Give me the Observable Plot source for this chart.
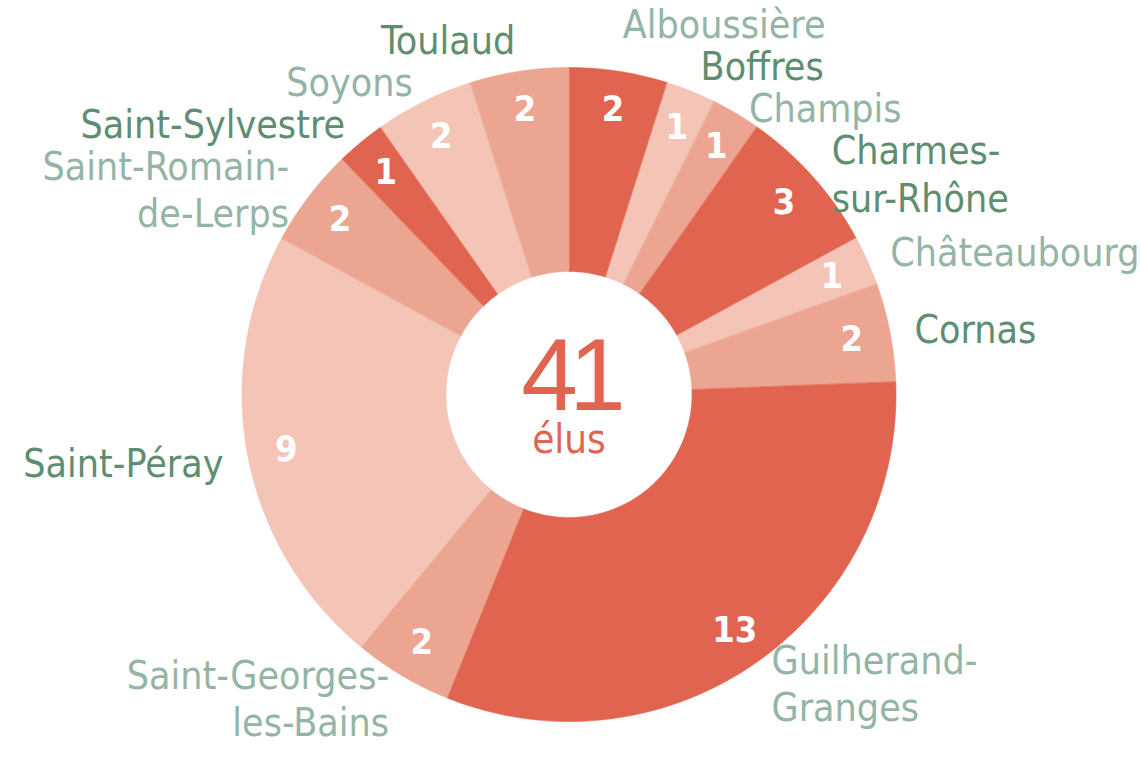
<!DOCTYPE html>
<html><head><meta charset="utf-8">
<script src="https://cdn.jsdelivr.net/npm/d3@7"></script>
<script src="https://cdn.jsdelivr.net/npm/@observablehq/plot@0.6"></script>
<style>
html,body{margin:0;padding:0;background:#fff;}
#chart svg{display:block;font-stretch:condensed;}
</style></head><body><div id="chart"></div>
<script>
// ---- data ----
const communes = ["Alboussière","Boffres","Champis","Charmes-sur-Rhône","Châteaubourg","Cornas","Guilherand-Granges","Saint-Georges-les-Bains","Saint-Péray","Saint-Romain-de-Lerps","Saint-Sylvestre","Soyons","Toulaud"];
const elus = [2,1,1,3,1,2,13,2,9,2,1,2,2];
const sliceTone = ["fort","clair","moyen","fort","clair","moyen","fort","moyen","clair","moyen","fort","clair","moyen"];
const labelTone = ["clair","fonce","clair","fonce","clair","fonce","clair","clair","fonce","clair","fonce","clair","fonce"];
const centerLabel = "élus";

// ---- layout & style ----
const W = 1140, H = 757, CX = 568.5, CY = 394;
const R_OUT = 327, R_IN = 123, R_NUM = 288, R_LAB = 352;
const FONT = "'DejaVu Sans Condensed', 'DejaVu Sans', sans-serif";
const LABEL_SIZE = 39, LINE_H = 1.22, GAP = 42;
const sliceColors = {fort: "#e0644f", moyen: "#eca591", clair: "#f4c5b6"};
const labelColors = {fonce: "#5e8d6f", clair: "#94b5a4"};

function breakName(name) {
  if (name.length <= 15) return name;
  const mid = name.length / 2;
  let best = -1;
  for (let i = 0; i < name.length; i++) if (name[i] === "-" && (best < 0 || Math.abs(i - mid) < Math.abs(best - mid))) best = i;
  return best < 0 ? name : name.slice(0, best + 1) + "\n" + name.slice(best + 1);
}

const total = d3.sum(elus);
let acc = 0;
const slices = communes.map((name, i) => {
  const a0 = acc / total * 2 * Math.PI; acc += elus[i];
  const a1 = acc / total * 2 * Math.PI;
  const label = breakName(name);
  const mid = (a0 + a1) / 2;
  return {name, label, lines: label.split("\n").length, value: elus[i], a0, a1, mid,
    lx: R_LAB * Math.sin(mid), ly: -R_LAB * Math.cos(mid), tone: sliceTone[i], ltone: labelTone[i]};
});

// simple vertical de-overlap of outer labels, per side
function relax(items) {
  items.sort((a, b) => a.ly - b.ly);
  const h = d => (d.lines - 1) * LABEL_SIZE * LINE_H + GAP;
  for (let it = 0; it < 300; it++) {
    for (let i = 0; i < items.length - 1; i++) {
      const a = items[i], b = items[i + 1];
      const need = (h(a) + h(b)) / 2, have = b.ly - a.ly;
      if (have < need) { const d = (need - have) / 2; a.ly -= d; b.ly += d; }
    }
  }
}
const right = slices.filter(d => Math.sin(d.mid) >= 0);
const left = slices.filter(d => Math.sin(d.mid) < 0);
relax(right); relax(left);

const pts = [];
for (const s of slices) {
  const n = Math.max(2, Math.ceil((s.a1 - s.a0) / 0.01));
  for (let k = 0; k <= n; k++) { const a = s.a0 + (s.a1 - s.a0) * k / n; pts.push({name: s.name, tone: s.tone, x: R_OUT * Math.sin(a), y: -R_OUT * Math.cos(a)}); }
  for (let k = n; k >= 0; k--) { const a = s.a0 + (s.a1 - s.a0) * k / n; pts.push({name: s.name, tone: s.tone, x: R_IN * Math.sin(a), y: -R_IN * Math.cos(a)}); }
}

const labelOpts = {x: "lx", y: "ly", text: "label", fill: d => labelColors[d.ltone], fontSize: LABEL_SIZE, fontFamily: FONT, lineAnchor: "middle", lineHeight: LINE_H};

const chart = Plot.plot({
  width: W, height: H, margin: 0,
  x: {domain: [-CX, W - CX], range: [0, W], axis: null},
  y: {domain: [-CY, H - CY], range: [0, H], axis: null},
  color: {type: "identity"},
  marks: [
    Plot.line(pts, {x: "x", y: "y", z: "name", fill: d => sliceColors[d.tone], stroke: d => sliceColors[d.tone], strokeWidth: 0.6, curve: "linear-closed"}),
    Plot.text(slices, {x: d => R_NUM * Math.sin(d.mid), y: d => -R_NUM * Math.cos(d.mid), text: d => String(d.value), fill: "white", fontWeight: "bold", fontSize: 36, fontFamily: FONT, lineAnchor: "middle"}),
    Plot.text(right, {...labelOpts, textAnchor: "start"}),
    Plot.text(left, {...labelOpts, textAnchor: "end"}),
    Plot.text([total], {x: 0, y: 0, dy: -17, text: d => String(d), fill: sliceColors.fort, fontSize: 102, fontFamily: "'Liberation Sans', Arial, sans-serif", lineAnchor: "middle"}),
    Plot.text([centerLabel], {x: 0, y: 0, dy: 46, text: d => d, fill: sliceColors.fort, fontSize: 40, fontFamily: FONT, lineAnchor: "middle"})
  ]
});
// tighten the big central number like the original
d3.select(chart).selectAll("text").filter(function() { return this.textContent === String(total); })
  .style("letter-spacing", "-9px").style("font-stretch", "normal");
document.getElementById("chart").append(chart);
</script></body></html>
